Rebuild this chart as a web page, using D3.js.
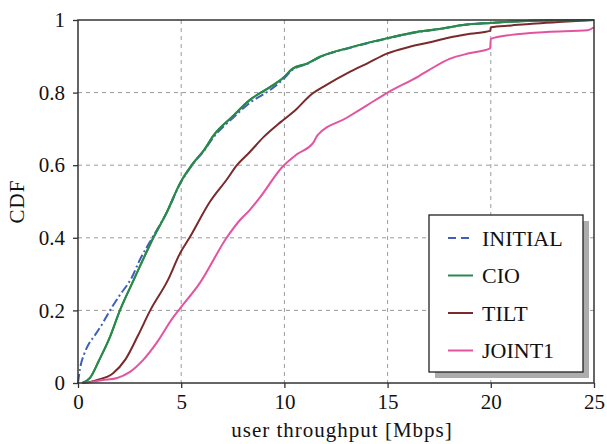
<!DOCTYPE html>
<html>
<head>
<meta charset="utf-8">
<script src="https://cdn.jsdelivr.net/npm/d3@7"></script>
<style>
  html, body { margin: 0; padding: 0; background: #fff; }
  svg { display: block; }
  svg text { font-family: "Liberation Serif", "DejaVu Serif", "Times New Roman", serif; }
</style>
</head>
<body>
<svg id="chart" width="607" height="444"></svg>
<script>
// Throughput CDF per scheme: x = user throughput [Mbps], y = cumulative probability
const seriesNames = ["INITIAL", "CIO", "TILT", "JOINT1"];

const initialX = [0, 0.1, 0.3, 0.55, 0.8, 1.2, 1.55, 2.0, 2.6, 3.0, 3.6, 4.3, 4.94, 5.57, 6.15, 6.54, 7.5, 8.33, 9.3, 9.93, 10.4, 11.1, 11.7, 13.3, 15.0, 16.4, 17.5, 18.65, 20, 22, 25];
const initialCdf = [0, 0.04, 0.08, 0.11, 0.13, 0.165, 0.2, 0.24, 0.29, 0.34, 0.4, 0.47, 0.548, 0.603, 0.643, 0.675, 0.73, 0.772, 0.807, 0.836, 0.863, 0.879, 0.897, 0.925, 0.949, 0.966, 0.975, 0.986, 0.992, 0.998, 1.0];

const cioX = [0.2, 0.58, 1.0, 1.55, 2.03, 2.7, 3.65, 4.3, 4.94, 5.57, 6.15, 6.54, 7.5, 8.33, 9.3, 9.93, 10.4, 11.1, 11.7, 13.3, 15.0, 16.4, 17.5, 18.65, 20, 22, 25];
const cioCdf = [0, 0.014, 0.06, 0.127, 0.2, 0.284, 0.4, 0.47, 0.55, 0.605, 0.645, 0.68, 0.735, 0.78, 0.815, 0.84, 0.866, 0.88, 0.898, 0.926, 0.95, 0.967, 0.975, 0.986, 0.992, 0.998, 1.0];

const tiltX = [0.25, 0.9, 1.7, 2.3, 2.9, 3.5, 4.36, 4.94, 5.4, 6.4, 7.2, 7.7, 8.3, 9.0, 9.8, 10.5, 11.3, 12.0, 13.1, 14.0, 15.0, 16.0, 17.0, 18.0, 19.0, 19.97, 20.0, 21.0, 22.0, 23.5, 25];
const tiltCdf = [0, 0.008, 0.027, 0.065, 0.13, 0.2, 0.284, 0.357, 0.4, 0.5, 0.56, 0.6, 0.635, 0.678, 0.718, 0.75, 0.795, 0.82, 0.855, 0.88, 0.908, 0.925, 0.938, 0.952, 0.962, 0.97, 0.98, 0.985, 0.99, 0.995, 1.0];

const joint1X = [0.4, 1.2, 1.9, 2.5, 3.15, 3.8, 4.6, 4.94, 5.9, 7.2, 7.85, 8.33, 8.8, 9.93, 10.6, 11.4, 11.6, 13.0, 14.0, 15.0, 16.5, 17.0, 18.0, 19.0, 19.97, 20.0, 21.0, 22.7, 24.7, 25];
const joint1Cdf = [0, 0.008, 0.014, 0.03, 0.063, 0.11, 0.18, 0.205, 0.275, 0.4, 0.449, 0.477, 0.51, 0.597, 0.63, 0.662, 0.682, 0.73, 0.765, 0.8, 0.845, 0.862, 0.893, 0.909, 0.922, 0.948, 0.959, 0.967, 0.972, 0.98];

const xTicks = [0, 5, 10, 15, 20, 25];
const xTickLabels = ["0", "5", "10", "15", "20", "25"];
const yTicks = [0, 0.2, 0.4, 0.6, 0.8, 1];
const yTickLabels = ["0", "0.2", "0.4", "0.6", "0.8", "1"];

const seriesXs = [initialX, cioX, tiltX, joint1X];
const seriesCdfs = [initialCdf, cioCdf, tiltCdf, joint1Cdf];

// Styling
const colors = ["#3f5fb8", "#2a8a4c", "#7a2a2a", "#e2549f"];
const plotDash = ["9,3,2,3", null, null, null];
const legendDash = ["8,5", null, null, null];

const margin = { left: 78, top: 20, right: 13, bottom: 61 };
const W = 607, H = 444;
const iw = W - margin.left - margin.right;
const ih = H - margin.top - margin.bottom;

const svg = d3.select("#chart");
const g = svg.append("g").attr("transform", `translate(${margin.left},${margin.top})`);

const x = d3.scaleLinear().domain([0, 25]).range([0, iw]);
const y = d3.scaleLinear().domain([0, 1]).range([ih, 0]);

const serif = '"Liberation Serif", "DejaVu Serif", "Times New Roman", serif';

// Dashed grid
g.append("g").selectAll("line")
  .data(xTicks.slice(1, -1)).join("line")
  .attr("x1", d => x(d)).attr("x2", d => x(d))
  .attr("y1", 0).attr("y2", ih)
  .attr("stroke", "#9a9a9a").attr("stroke-width", 1).attr("stroke-dasharray", "4,4");
g.append("g").selectAll("line")
  .data(yTicks.slice(1, -1)).join("line")
  .attr("x1", 0).attr("x2", iw)
  .attr("y1", d => y(d)).attr("y2", d => y(d))
  .attr("stroke", "#9a9a9a").attr("stroke-width", 1).attr("stroke-dasharray", "4,4");

// Curves (monotone interpolation keeps each CDF non-decreasing)
const line = d3.line().x(d => x(d[0])).y(d => y(d[1])).curve(d3.curveMonotoneX);
seriesNames.forEach((name, i) => {
  const pts = seriesXs[i].map((v, k) => [v, seriesCdfs[i][k]]);
  g.append("path")
    .datum(pts)
    .attr("d", line)
    .attr("fill", "none")
    .attr("stroke", colors[i])
    .attr("stroke-width", 2)
    .attr("stroke-linejoin", "round")
    .attr("stroke-dasharray", plotDash[i]);
});
// Draw CIO again above INITIAL so the overlap shows green
{
  const pts = cioX.map((v, k) => [v, cioCdf[k]]);
  g.append("path").datum(pts).attr("d", line)
    .attr("fill", "none").attr("stroke", colors[1]).attr("stroke-width", 2)
    .attr("stroke-linejoin", "round");
}

// Axes
const xAxis = d3.axisBottom(x).tickValues(xTicks).tickSize(5).tickPadding(6)
  .tickFormat((d, i) => xTickLabels[i]);
const yAxis = d3.axisLeft(y).tickValues(yTicks).tickSize(5).tickPadding(8)
  .tickFormat((d, i) => yTickLabels[i]);

const gx = g.append("g").attr("transform", `translate(0,${ih})`).call(xAxis);
const gy = g.append("g").call(yAxis);
[gx, gy].forEach(ax => {
  ax.attr("font-family", null).attr("font-size", null);
  ax.select(".domain").remove();
  ax.selectAll(".tick line").attr("stroke", "#333").attr("stroke-width", 1.3);
  ax.selectAll(".tick text").style("font-family", serif).style("font-size", "21px").attr("fill", "#111");
});

// Frame
g.append("rect").attr("x", 0).attr("y", 0).attr("width", iw).attr("height", ih)
  .attr("fill", "none").attr("stroke", "#333").attr("stroke-width", 1.5);

// Axis titles
svg.append("text")
  .attr("x", margin.left + iw / 2 + 6).attr("y", 437)
  .attr("text-anchor", "middle")
  .style("font-family", serif).style("font-size", "21px").attr("letter-spacing", 1)
  .attr("fill", "#111")
  .text("user throughput [Mbps]");
svg.append("text")
  .attr("transform", `translate(24,${margin.top + ih / 2}) rotate(-90)`)
  .attr("text-anchor", "middle")
  .style("font-family", serif).style("font-size", "21px").attr("letter-spacing", 1)
  .attr("fill", "#111")
  .text("CDF");

// Legend with drop shadow
const lg = svg.append("g").attr("transform", "translate(429,215)");
const lw = 154, lh = 157;
lg.append("rect").attr("x", 6).attr("y", 6).attr("width", lw).attr("height", lh).attr("fill", "#adadad");
lg.append("rect").attr("x", 0).attr("y", 0).attr("width", lw).attr("height", lh)
  .attr("fill", "#fff").attr("stroke", "#222").attr("stroke-width", 1.3);
seriesNames.forEach((name, i) => {
  const cy = 23 + i * 37.5;
  lg.append("line").attr("x1", 19).attr("x2", 44).attr("y1", cy).attr("y2", cy)
    .attr("stroke", colors[i]).attr("stroke-width", 2).attr("stroke-dasharray", legendDash[i]);
  lg.append("text").attr("x", 53).attr("y", cy + 7.5)
    .style("font-family", serif).style("font-size", "22px").attr("fill", "#111")
    .text(name);
});
</script>
</body>
</html>
